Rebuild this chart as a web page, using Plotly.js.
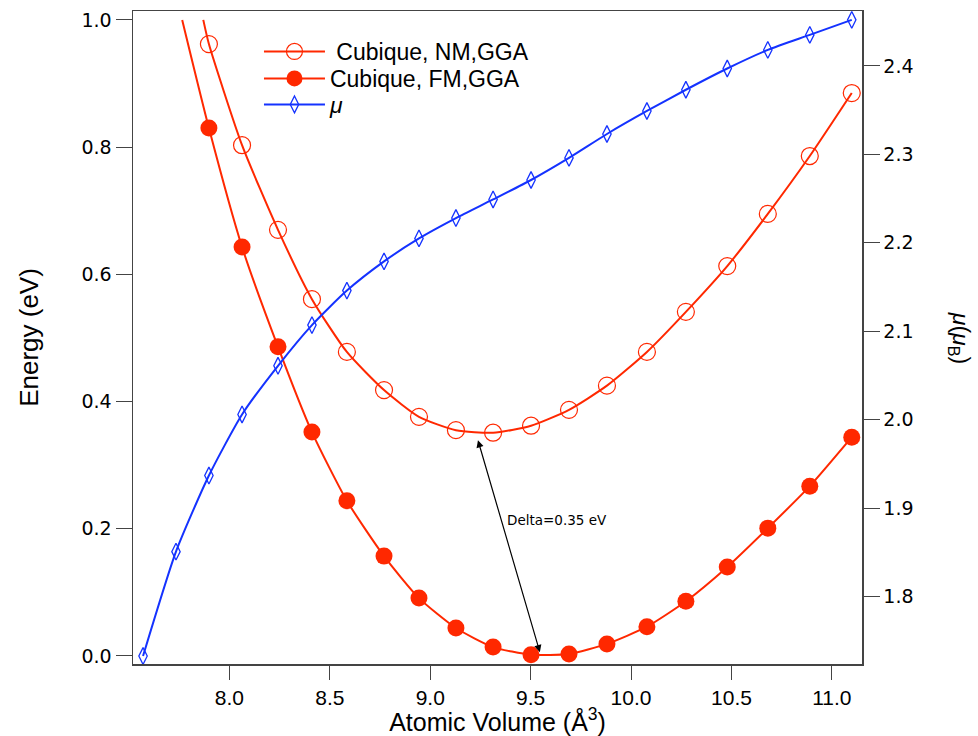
<!DOCTYPE html>
<html>
<head>
<meta charset="utf-8">
<script src="https://cdn.plot.ly/plotly-3.0.1.min.js"></script>
<style>
html,body{margin:0;padding:0;background:#fff;}
#chart{width:978px;height:736px;}
</style>
</head>
<body>
<div id="chart"></div>
<script>
// Atomic volumes (Å^3)
const volume = [7.898, 8.063, 8.242, 8.411, 8.585, 8.770, 8.944, 9.128, 9.313, 9.502, 9.691, 9.880, 10.079, 10.273, 10.479, 10.681, 10.890, 11.099];
const volumeMu = [7.570, 7.734, 7.898, 8.063, 8.242, 8.411, 8.585, 8.770, 8.944, 9.128, 9.313, 9.502, 9.691, 9.880, 10.079, 10.273, 10.479, 10.681, 10.890, 11.099];
// Energies (eV)
const energyNM = [0.962, 0.803, 0.670, 0.561, 0.478, 0.418, 0.376, 0.355, 0.351, 0.362, 0.387, 0.425, 0.478, 0.541, 0.613, 0.695, 0.786, 0.885];
const energyFM = [0.830, 0.643, 0.486, 0.352, 0.244, 0.157, 0.091, 0.044, 0.014, 0.002, 0.003, 0.019, 0.046, 0.086, 0.140, 0.201, 0.267, 0.344];
// Fitted curve continuation at the top edge (E = 1.0 eV)
const fitEdgeNM = {x: 7.870, y: 1.0};
const fitEdgeFM = {x: 7.765, y: 1.0};
// Magnetic moment (μB)
const moment = [1.733, 1.851, 1.937, 2.006, 2.061, 2.107, 2.146, 2.179, 2.205, 2.228, 2.249, 2.271, 2.296, 2.323, 2.349, 2.373, 2.397, 2.418, 2.435, 2.452];
// Delta annotation
const deltaTop = {x: 9.237, y: 0.340};
const deltaBottom = {x: 9.546, y: 0.006};
const deltaLabel = {x: 9.63, y: 0.214, text: 'Delta=0.35 eV'};

const red = 'rgb(255,40,0)';
const blue = 'rgb(20,50,255)';

const nmX = [fitEdgeNM.x].concat(volume);
const nmY = [fitEdgeNM.y].concat(energyNM);
const fmX = [fitEdgeFM.x].concat(volume);
const fmY = [fitEdgeFM.y].concat(energyFM);
const sizesFor = (n, s) => [0].concat(Array(n).fill(s));

const traces = [
  {
    x: nmX, y: nmY, name: ' Cubique, NM,GGA', type: 'scatter', mode: 'lines+markers', legend: 'legend',
    line: {color: red, width: 2, shape: 'spline', smoothing: 0.6},
    marker: {symbol: 'circle-open', size: sizesFor(volume.length, 17), opacity: 1, color: red, line: {width: 1.2, color: red}}
  },
  {
    x: fmX, y: fmY, name: 'Cubique, FM,GGA', type: 'scatter', mode: 'lines+markers', legend: 'legend2',
    line: {color: red, width: 2, shape: 'spline', smoothing: 0.6},
    marker: {symbol: 'circle', size: sizesFor(volume.length, 17), opacity: 1, color: red, line: {width: 0}}
  },
  {
    x: volumeMu, y: moment, name: '<i>μ</i>', type: 'scatter', mode: 'lines+markers', yaxis: 'y2', legend: 'legend3',
    line: {color: blue, width: 2, shape: 'spline', smoothing: 0.6},
    marker: {symbol: 'diamond-tall-open', size: 12, opacity: 1, color: blue, line: {width: 1.3, color: blue}}
  }
];

const axisCol = '#444';
const tickFont = {family: 'DejaVu Sans, sans-serif', size: 19, color: '#000'};
const legendFont = {family: 'Liberation Sans, Arial, sans-serif', size: 23, color: '#000'};
const legendBase = {x: 0.1728, xanchor: 'left', yanchor: 'top', bgcolor: 'rgba(0,0,0,0)', font: legendFont, itemwidth: 61};
const layout = {
  width: 978, height: 736,
  margin: {l: 133, r: 116, t: 11, b: 72},
  paper_bgcolor: '#fff', plot_bgcolor: '#fff',
  showlegend: true,
  legend: Object.assign({}, legendBase, {y: 0.9709}),
  legend2: Object.assign({}, legendBase, {y: 0.9296}),
  legend3: Object.assign({}, legendBase, {y: 0.8897}),
  xaxis: {
    range: [7.52, 11.15], tickvals: [8.0, 8.5, 9.0, 9.5, 10.0, 10.5, 11.0],
    ticktext: ['8.0', '8.5', '9.0', '9.5', '10.0', '10.5', '11.0'],
    ticks: 'outside', ticklen: 14, tickwidth: 1, tickcolor: axisCol,
    showline: true, linecolor: axisCol, linewidth: 1.5, mirror: true,
    showgrid: false, zeroline: false,
    tickfont: {family: 'Liberation Sans, Arial, sans-serif', size: 21, color: '#000'},
    title: {text: 'Atomic Volume (Å<sup>3</sup>)', font: {family: 'Liberation Sans, Arial, sans-serif', size: 25, color: '#000'}, standoff: 1}
  },
  yaxis: {
    range: [-0.0126, 1.014], tickvals: [0, 0.2, 0.4, 0.6, 0.8, 1.0],
    ticktext: ['0.0', '0.2', '0.4', '0.6', '0.8', '1.0'],
    ticks: 'outside', ticklen: 16, tickwidth: 1, tickcolor: axisCol,
    showline: true, linecolor: axisCol, linewidth: 1.5,
    showgrid: false, zeroline: false, tickfont: tickFont,
    title: {text: 'Energy (eV)', font: {family: 'Liberation Sans, Arial, sans-serif', size: 26, color: '#000'}, standoff: 35}
  },
  yaxis2: {
    overlaying: 'y', side: 'right',
    range: [1.724, 2.462], tickvals: [1.8, 1.9, 2.0, 2.1, 2.2, 2.3, 2.4],
    ticktext: ['1.8', '1.9', '2.0', '2.1', '2.2', '2.3', '2.4'],
    ticks: 'outside', ticklen: 16, tickwidth: 1, tickcolor: axisCol,
    showline: true, linecolor: axisCol, linewidth: 1.5,
    showgrid: false, zeroline: false, tickfont: tickFont
  },
  annotations: [
    {
      x: deltaBottom.x, y: deltaBottom.y, ax: deltaTop.x, ay: deltaTop.y,
      xref: 'x', yref: 'y', axref: 'x', ayref: 'y',
      text: '', showarrow: true, arrowhead: 2, startarrowhead: 2, arrowside: 'end+start',
      arrowsize: 1.2, startarrowsize: 1.2, arrowwidth: 1.2, arrowcolor: '#000', standoff: 0, startstandoff: 0, borderpad: 0
    },
    {
      x: deltaLabel.x, y: deltaLabel.y, xref: 'x', yref: 'y', text: deltaLabel.text, showarrow: false,
      font: {family: 'DejaVu Sans, sans-serif', size: 13.5, color: '#000'}
    },
    {
      x: 1.134, y: 0.50, xref: 'paper', yref: 'paper', xanchor: 'center', yanchor: 'middle',
      text: '<i>μ</i>(<i>μ</i><sub>B</sub>)', textangle: 90,
      showarrow: false, font: {family: 'Liberation Sans, Arial, sans-serif', size: 23, color: '#000'}
    }
  ]
};

Plotly.newPlot('chart', traces, layout, {displayModeBar: false, staticPlot: true});
</script>
</body>
</html>
